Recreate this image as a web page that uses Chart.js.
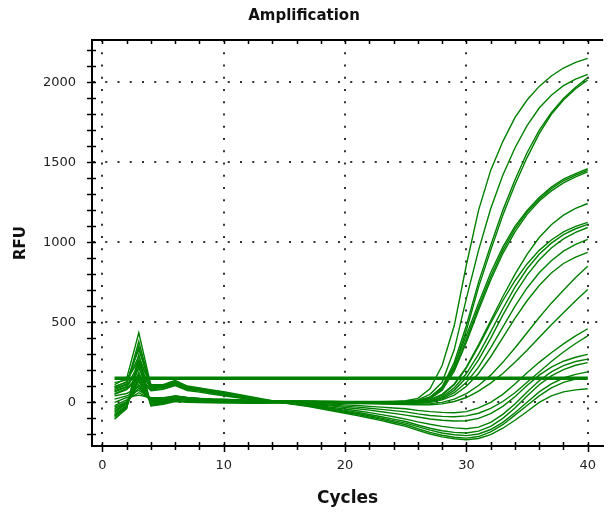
<!DOCTYPE html>
<html>
<head>
<meta charset="utf-8">
<script src="https://cdn.jsdelivr.net/npm/chart.js@4.4.0/dist/chart.umd.min.js"></script>
<style>
  html, body { margin: 0; padding: 0; background: #fff; }
  canvas { display: block; }
</style>
</head>
<body>
<canvas id="amp" width="608" height="515"></canvas>
<script>
// Cycle numbers
const cycles = [1,2,3,4,5,6,7,8,9,10,11,12,13,14,15,16,17,18,19,20,
                21,22,23,24,25,26,27,28,29,30,31,32,33,34,35,36,37,38,39,40];

// RFU per well
const a1 = [-106,-40,300,-20,-10,10,5,3,2,0,-2,-3,-4,-3, -2,-1,0,1,2,3,3,4,5,6,10, 25,85,230,480,860,1200,1450,1630,1780,1890,1975,2040,2090,2125,2150];
const a2 = [-80,-25,190,-10,-5,20,12,8,6,5,4,3,2,2, 2,2,2,2,3,3,3,4,4,5,6, 15,50,125,330,650,950,1210,1420,1590,1730,1840,1920,1980,2020,2050];
const a3 = [-60,-10,130,0,5,30,18,14,11,10,8,6,5,4, 4,4,3,3,3,3,3,3,3,3,4, 10,32,95,250,480,750,980,1200,1390,1560,1700,1810,1900,1970,2030];
const a4 = [-95,-35,230,-23,-12,5,0,-2,-3,-5,-5,-6,-6,-5, -4,-3,-3,-2,-2,-1,-1,0,0,1,2, 8,27,82,225,450,720,950,1170,1360,1530,1680,1800,1890,1960,2015];
const b1 = [-40,0,90,10,12,35,25,20,17,15,13,11,9,8, 7,6,6,5,5,4,4,4,4,3,4, 10,32,95,230,420,620,810,970,1100,1200,1280,1345,1395,1430,1460];
const b2 = [-20,15,60,20,22,40,30,24,20,18,15,13,11,10, 9,8,8,7,6,6,5,5,4,4,5, 10,28,85,210,395,595,785,950,1085,1190,1270,1335,1385,1420,1450];
const b3 = [-70,-20,160,-5,0,22,14,10,8,6,5,4,3,3, 3,3,3,2,2,2,2,2,2,2,3, 7,22,75,195,375,575,765,930,1065,1175,1258,1322,1372,1410,1440];
const c1 = [-50,-5,110,5,8,28,20,16,13,12,10,9,8,7, 6,5,5,4,4,3,3,2,2,1,1, 5,17,50,115,220,360,510,660,800,925,1030,1110,1170,1212,1243];
const c2 = [0,30,45,29,29,40,30,25,21,19,16,14,12,10, 9,8,7,6,5,4,3,2,1,1,2, 5,14,45,110,215,350,495,635,760,865,950,1015,1065,1100,1125];
const c3 = [-85,-30,260,-15,-8,12,6,4,2,1,0,-1,-2,-2, -2,-2,-2,-2,-3,-3,-3,-3,-3,-2,-2, 0,8,35,90,180,300,440,585,720,835,925,995,1048,1085,1112];
const c4 = [20,40,75,25,25,38,28,22,19,16,14,12,10,8, 7,6,5,4,3,2,1,0,-1,-2,-2, -2,5,28,75,155,265,400,545,680,795,890,965,1022,1062,1093];
const c5 = [-30,5,140,12,15,32,22,18,15,13,11,9,7,6, 5,4,3,2,1,0,-1,-2,-3,-4,-5, -4,3,22,60,125,220,340,470,600,715,810,885,945,988,1019];
const c6 = [40,55,100,15,18,33,24,19,16,14,12,10,8,6, 5,4,3,2,1,0,-1,-2,-3,-4,-5, -5,0,15,45,100,180,285,405,525,635,730,808,868,908,937];
const d1 = [50,80,150,72,82,104,74,64,52,40,30,20,10,2, 0,-1,-2,-2,-3,-3,-4,-5,-6,-7,-8, -10,-8,0,20,55,105,170,250,340,435,530,620,700,780,850];
const d2 = [88,115,350,90,96,122,88,77,65,52,40,28,15,4, 2,0,-2,-3,-5,-6,-8,-9,-11,-12,-14, -15,-15,-10,5,30,70,120,180,250,325,405,485,560,635,706];
const e1 = [110,150,435,105,108,135,98,88,75,62,48,34,20,8, 2,-1,-4,-8,-12,-16,-20,-25,-30,-35,-40, -50,-58,-63,-65,-58,-35,0,50,115,185,250,310,365,415,460];
const e2 = [95,130,330,100,104,128,94,84,72,58,45,32,18,6, 0,-4,-8,-13,-18,-24,-30,-37,-44,-52,-60, -72,-82,-88,-90,-85,-68,-38,5,60,125,190,255,315,368,415];
const e3 = [123,140,260,112,110,137,102,90,78,66,52,38,24,10, 0,-5,-11,-17,-24,-32,-40,-49,-59,-69,-80, -92,-104,-112,-117,-115,-100,-70,-25,35,105,170,220,257,282,300];
const e4 = [80,110,380,92,98,120,90,80,68,55,42,29,16,5, -2,-8,-15,-23,-32,-42,-53,-64,-77,-90,-105, -122,-137,-150,-160,-165,-155,-125,-75,-10,65,135,190,230,255,270];
const e5 = [65,95,210,85,92,115,85,75,63,50,38,26,14,4, -2,-9,-18,-28,-39,-50,-62,-76,-90,-105,-120, -142,-162,-178,-188,-192,-180,-150,-100,-35,40,110,165,205,232,248];
const e6 = [100,125,290,96,100,125,88,78,66,53,40,27,14,3, -3,-11,-21,-32,-44,-56,-70,-84,-99,-114,-130, -152,-174,-192,-203,-208,-198,-170,-125,-65,0,65,115,152,175,190];
const e7 = [55,85,170,78,86,108,80,70,58,45,34,23,12,3, -4,-13,-24,-36,-49,-62,-76,-91,-106,-123,-140, -165,-188,-206,-218,-224,-214,-185,-140,-80,-20,40,90,125,145,155];
const e8 = [72,100,240,88,95,118,86,76,64,50,37,25,13,3, -5,-15,-27,-40,-54,-68,-83,-98,-114,-132,-150, -175,-198,-216,-228,-234,-226,-202,-162,-112,-57,0,40,65,78,85];

const wells = [a1, a2, a3, a4, b1, b2, b3, c1, c2, c3, c4, c5, c6, d1, d2, e1, e2, e3, e4, e5, e6, e7, e8];

// Threshold line
const threshold = 150;
const thresholdCycles = [1, 40];

// Axis ticks
const xTicks = [0,2,4,6,8,10,12,14,16,18,20,22,24,26,28,30,32,34,36,38,40];
const xLabels = [0,10,20,30,40];
const yTicks = [-200,-100,0,100,200,300,400,500,600,700,800,900,1000,1100,1200,1300,1400,1500,1600,1700,1800,1900,2000,2100,2200];
const yLabels = [0,500,1000,1500,2000];

const green = 'rgb(0,128,0)';
const font = 'DejaVu Sans';

const datasets = wells.map(vals => ({
    data: cycles.map((c, i) => ({ x: c, y: vals[i] })),
    borderColor: green,
    borderWidth: 1.4,
    pointRadius: 0,
    tension: 0,
    order: 2
}));
datasets.push({
    data: thresholdCycles.map(c => ({ x: c, y: threshold })),
    borderColor: green,
    borderWidth: 3.5,
    pointRadius: 0,
    order: 1
});

// Frame top line and tick marks that cross the axes
const frameTicks = {
    id: 'frameTicks',
    afterDraw(chart) {
        const { ctx, chartArea: a, scales: { x, y } } = chart;
        ctx.save();
        ctx.strokeStyle = '#000';
        ctx.lineWidth = 2;
        ctx.beginPath();
        ctx.moveTo(a.left - 1, a.top);
        ctx.lineTo(a.right, a.top);
        ctx.stroke();
        ctx.lineWidth = 1.5;
        ctx.beginPath();
        xTicks.forEach(v => {
            const px = Math.round(x.getPixelForValue(v)) + 0.5;
            const big = xLabels.includes(v);
            ctx.moveTo(px, a.bottom - 4);
            ctx.lineTo(px, a.bottom + (big ? 6 : 4));
            ctx.moveTo(px, a.top);
            ctx.lineTo(px, a.top + 4);
        });
        yTicks.forEach(v => {
            const py = Math.round(y.getPixelForValue(v)) + 0.5;
            ctx.moveTo(a.left - 5, py);
            ctx.lineTo(a.left + 4, py);
        });
        ctx.stroke();
        ctx.restore();
    }
};

new Chart(document.getElementById('amp'), {
    type: 'line',
    data: { datasets },
    options: {
        responsive: false,
        animation: false,
        devicePixelRatio: 1,
        layout: { padding: 0 },
        plugins: {
            legend: { display: false },
            tooltip: { enabled: false },
            title: {
                display: true,
                text: 'Amplification',
                color: '#111',
                font: { family: font, size: 15, weight: 'bold' },
                padding: { top: 7, bottom: 15 }
            }
        },
        scales: {
            x: {
                type: 'linear',
                min: -0.857,
                max: 41.27,
                afterBuildTicks: axis => { axis.ticks = xTicks.map(v => ({ value: v })); },
                afterFit: axis => { axis.height = 69; },
                ticks: {
                    autoSkip: false,
                    maxRotation: 0,
                    padding: 12,
                    color: '#222',
                    font: { family: font, size: 13 },
                    callback: v => xLabels.includes(v) ? String(v) : ''
                },
                grid: {
                    drawTicks: false,
                    lineWidth: 2,
                    color: c => xLabels.includes(c.tick && c.tick.value) ? '#333' : 'rgba(0,0,0,0)'
                },
                border: { display: true, color: '#000', width: 2, dash: [2, 10.25] },
                title: {
                    display: true,
                    text: 'Cycles',
                    color: '#111',
                    font: { family: font, size: 17, weight: 'bold' },
                    padding: { top: 0, bottom: 6 }
                }
            },
            y: {
                type: 'linear',
                min: -273,
                max: 2265,
                afterBuildTicks: axis => { axis.ticks = yTicks.map(v => ({ value: v })); },
                afterFit: axis => { axis.width = 92; },
                ticks: {
                    autoSkip: false,
                    padding: 16,
                    color: '#222',
                    font: { family: font, size: 13 },
                    callback: v => yLabels.includes(v) ? String(v) : ''
                },
                grid: {
                    drawTicks: false,
                    lineWidth: 2,
                    color: c => yLabels.includes(c.tick && c.tick.value) ? '#333' : 'rgba(0,0,0,0)'
                },
                border: { display: true, color: '#000', width: 2, dash: [2, 10.25] },
                title: {
                    display: true,
                    text: 'RFU',
                    color: '#111',
                    font: { family: font, size: 15, weight: 'bold' },
                    padding: { top: 12, bottom: 0 }
                }
            }
        }
    },
    plugins: [frameTicks]
});
</script>
</body>
</html>
